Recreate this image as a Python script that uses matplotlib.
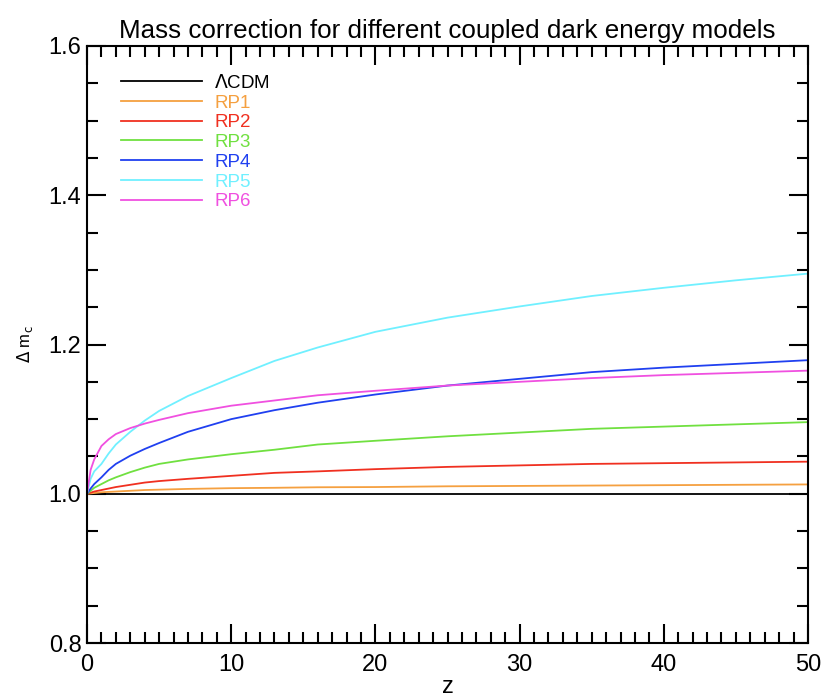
import numpy as np
import matplotlib.pyplot as plt
from matplotlib.ticker import MultipleLocator

plt.rcParams['font.family'] = ['Liberation Sans', 'DejaVu Sans']

# redshift samples
z = [0, 0.25, 0.5, 1, 1.5, 2, 3, 4, 5, 7, 10, 13, 16, 20, 25, 30, 35, 40, 45, 50]

lcdm = [1.0] * len(z)
rp1 = [1.0, 1.0005, 1.001, 1.002, 1.0025, 1.003, 1.004, 1.005, 1.0055, 1.0065, 1.0075,
       1.008, 1.0087, 1.009, 1.010, 1.0105, 1.011, 1.0115, 1.012, 1.0125]
rp2 = [1.0, 1.0015, 1.003, 1.005, 1.007, 1.009, 1.012, 1.015, 1.017, 1.020, 1.024,
       1.028, 1.030, 1.033, 1.036, 1.038, 1.040, 1.041, 1.042, 1.043]
rp3 = [1.0, 1.004, 1.008, 1.013, 1.018, 1.022, 1.029, 1.035, 1.040, 1.046, 1.053,
       1.059, 1.066, 1.071, 1.077, 1.082, 1.087, 1.090, 1.093, 1.096]
rp4 = [1.0, 1.007, 1.013, 1.022, 1.032, 1.040, 1.051, 1.060, 1.068, 1.083, 1.100,
       1.112, 1.122, 1.133, 1.145, 1.154, 1.163, 1.169, 1.174, 1.179]
rp5 = [1.0, 1.020, 1.030, 1.040, 1.054, 1.066, 1.083, 1.098, 1.111, 1.131, 1.155,
       1.178, 1.196, 1.217, 1.236, 1.251, 1.265, 1.276, 1.286, 1.295]
rp6 = [1.0, 1.032, 1.046, 1.064, 1.073, 1.080, 1.088, 1.094, 1.099, 1.108, 1.118,
       1.125, 1.132, 1.138, 1.145, 1.150, 1.155, 1.159, 1.162, 1.165]

labels = [r'$\Lambda$CDM', 'RP1', 'RP2', 'RP3', 'RP4', 'RP5', 'RP6']
colors = ['black', '#f5a040', '#f03020', '#70e040', '#2040f0', '#70f0ff', '#f050e0']
series = [lcdm, rp1, rp2, rp3, rp4, rp5, rp6]

fig = plt.figure(figsize=(8.24, 7.0), dpi=100)
ax = fig.add_axes([0.1056, 0.0814, 0.875, 0.8529])

for y, c, lab in zip(series, colors, labels):
    ax.plot(z, y, color=c, lw=1.3, label=lab)

ax.set_xlim(0, 50)
ax.set_ylim(0.8, 1.6)
ax.xaxis.set_major_locator(MultipleLocator(10))
ax.xaxis.set_minor_locator(MultipleLocator(1))
ax.yaxis.set_major_locator(MultipleLocator(0.2))
ax.yaxis.set_minor_locator(MultipleLocator(0.05))
ax.tick_params(which='both', direction='in', top=True, right=True, width=1.5, labelsize=17)
ax.tick_params(which='major', length=14)
ax.tick_params(axis='x', pad=8)
ax.tick_params(axis='y', pad=4)
ax.tick_params(which='minor', length=8)
for s in ax.spines.values():
    s.set_linewidth(1.5)

ax.set_title('Mass correction for different coupled dark energy models', fontsize=18.7, pad=6)
ax.set_xlabel('z', fontsize=17, labelpad=0)
ax.set_ylabel(r'$\Delta$ m$_\mathrm{c}$', fontsize=12, labelpad=10)

ax.legend(loc='upper left', bbox_to_anchor=(0.037, 0.966), frameon=False,
          handlelength=4.3, handletextpad=0.65, labelspacing=0.14,
          fontsize=13.5, labelcolor='linecolor', borderaxespad=0)

fig.savefig('out.png', dpi=100)
